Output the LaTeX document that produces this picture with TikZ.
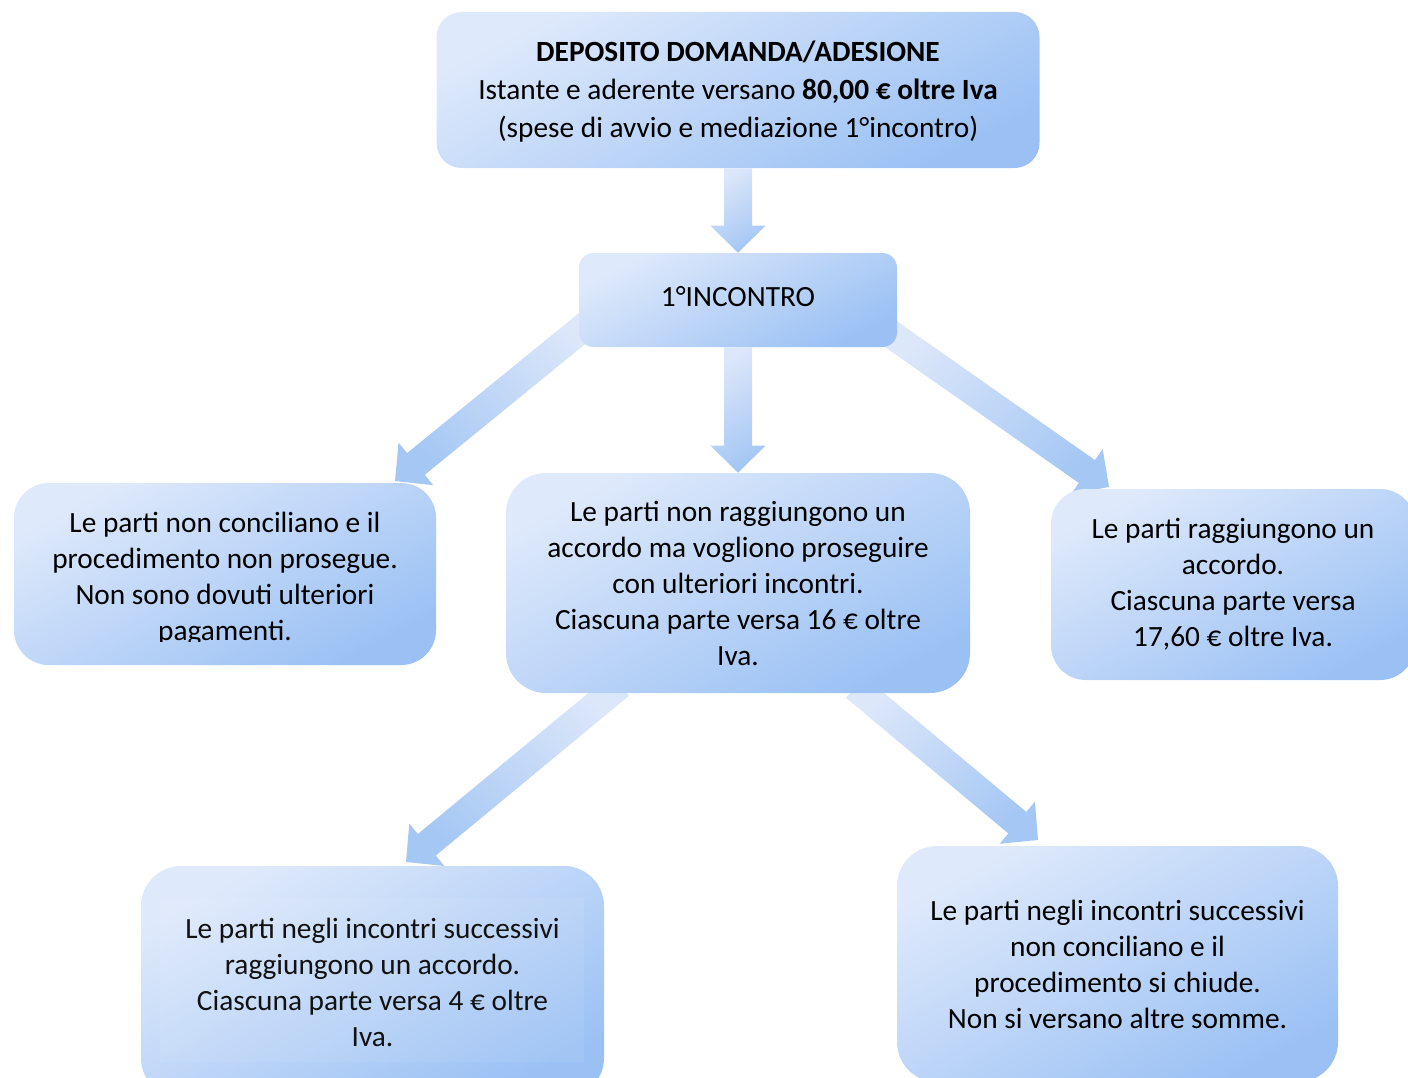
\documentclass[tikz,border=0pt]{standalone}
\usepackage{fontspec}
\setmainfont{Carlito}
\usetikzlibrary{calc}
\definecolor{boxlight}{HTML}{DEE9FB}
\definecolor{boxdark}{HTML}{9BC1F4}
\definecolor{arrlight}{HTML}{DCE7FA}
\definecolor{arrdark}{HTML}{A5C7F4}
\pgfdeclarelayer{bg}
\pgfsetlayers{bg,main}
\newcommand\blockarrow[3]{%
  \coordinate (hb) at ($(#2)!20.25pt!(#1)$);
  \path[top color=arrlight, bottom color=arrdark, shading angle=#3]
    ($(#1)!10.5pt!90:(#2)$) -- ($(hb)!10.5pt!-90:(#1)$) -- ($(hb)!20.6pt!-90:(#1)$)
    -- (#2) -- ($(hb)!20.6pt!90:(#1)$) -- ($(hb)!10.5pt!90:(#1)$)
    -- ($(#1)!10.5pt!-90:(#2)$) -- cycle;
}
\tikzset{
  box/.style={rounded corners=#1, top color=boxlight, bottom color=boxdark,
    shading angle=28, align=center, inner sep=0pt,
    font=\fontsize{22}{27}\selectfont},
  txt/.style={align=center, inner sep=0pt, font=\fontsize{22}{27}\selectfont}
}
\begin{document}
\begin{tikzpicture}[x=0.75pt,y=-0.75pt]
\useasboundingbox (0,0) rectangle (1408,1077);
\clip (0,0) rectangle (1408,1077);

\node[box=18.75pt, minimum width=452.25pt, minimum height=117pt] (top) at (738,90) {};
\node[txt, font=\fontsize{22}{28.5}\selectfont] (toptxt) at (738,92)
  {\textbf{DEPOSITO DOMANDA/ADESIONE}\\
   Istante e aderente versano \textbf{80,00 € oltre Iva}\\
   (spese di avvio e mediazione 1°incontro)};

\node[box=11pt, minimum width=238.5pt, minimum height=70.5pt] (inc) at (738,300) {};
\node[txt] (inctxt) at (738,297) {1°INCONTRO};

\node[box=26pt, minimum width=316.5pt, minimum height=136.5pt] (left) at (225,574) {};
\begin{scope}
  \clip (14,483) rectangle (436,641);
  \node[txt] (lefttxt) at (225,579)
    {Le parti non conciliano e il\\procedimento non prosegue.\\Non sono dovuti ulteriori\\pagamenti.};
\end{scope}

\node[box=30pt, minimum width=348pt, minimum height=165pt] (mid) at (738,583)
  {Le parti non raggiungono un\\accordo ma vogliono proseguire\\con ulteriori incontri.\\Ciascuna parte versa 16 € oltre\\Iva.};

\node[box=26pt, minimum width=273pt, minimum height=143.25pt] (right) at (1233,584.5)
  {Le parti raggiungono un\\accordo.\\Ciascuna parte versa\\17,60 € oltre Iva.};

\node[box=30pt, minimum width=347.25pt, minimum height=174pt] (bl) at (372.5,982)
  {Le parti negli incontri successivi\\raggiungono un accordo.\\Ciascuna parte versa 4 € oltre\\Iva.};
\path[fill=white, fill opacity=0.07] (160,898) rectangle (584,1062);

\node[box=30pt, minimum width=330.75pt, minimum height=177pt] (br) at (1117.5,964)
  {Le parti negli incontri successivi\\non conciliano e il\\procedimento si chiude.\\Non si versano altre somme.};

\coordinate (a3s) at (595,318);
\coordinate (a3e) at (395,481);
\coordinate (a4s) at (885,330);
\coordinate (a4e) at (1109,487);
\coordinate (a5s) at (620,685);
\coordinate (a5e) at (406,862);
\coordinate (a6s) at (855,687);
\coordinate (a6e) at (1038,840);

\begin{pgfonlayer}{bg}
  \blockarrow{top.south}{inc.north}{30}
  \blockarrow{inc.south}{mid.north}{30}
  \blockarrow{a3s}{a3e}{-45}
  \blockarrow{a4s}{a4e}{45}
  \blockarrow{a5s}{a5e}{-45}
  \blockarrow{a6s}{a6e}{45}
\end{pgfonlayer}
\end{tikzpicture}
\end{document}
